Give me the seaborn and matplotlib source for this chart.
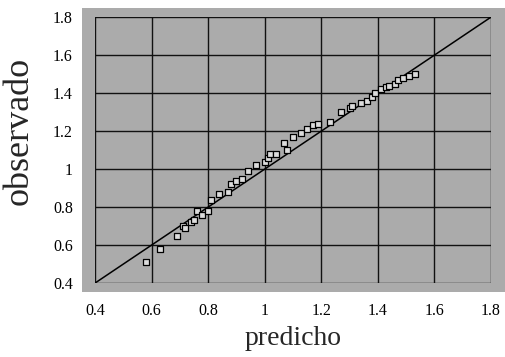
import numpy as np
import pandas as pd
import matplotlib
matplotlib.use("Agg")
import matplotlib.pyplot as plt
from matplotlib import font_manager
from matplotlib.patches import Rectangle
import seaborn as sns

predicho = [0.58, 0.63, 0.69, 0.71, 0.72, 0.74, 0.75, 0.76, 0.78, 0.80,
            0.81, 0.84, 0.87, 0.88, 0.90, 0.92, 0.94, 0.97, 1.00, 1.01,
            1.02, 1.04, 1.07, 1.08, 1.10, 1.13, 1.15, 1.17, 1.19, 1.23,
            1.27, 1.30, 1.31, 1.34, 1.36, 1.38, 1.39, 1.41, 1.43, 1.44,
            1.46, 1.47, 1.49, 1.51, 1.53]
observado = [0.51, 0.58, 0.65, 0.70, 0.69, 0.72, 0.73, 0.78, 0.76, 0.78,
             0.84, 0.87, 0.88, 0.92, 0.94, 0.95, 0.99, 1.02, 1.04, 1.06,
             1.08, 1.08, 1.14, 1.10, 1.17, 1.19, 1.21, 1.23, 1.24, 1.25,
             1.30, 1.32, 1.33, 1.35, 1.36, 1.38, 1.40, 1.42, 1.43, 1.44,
             1.45, 1.47, 1.48, 1.49, 1.50]
ticks = [0.4, 0.6, 0.8, 1.0, 1.2, 1.4, 1.6, 1.8]
tick_labels = ["0.4", "0.6", "0.8", "1", "1.2", "1.4", "1.6", "1.8"]

df = pd.DataFrame({"predicho": predicho, "observado": observado})

sns.set_style("white")

# pick a Times-like serif that is actually installed
installed = {f.name for f in font_manager.fontManager.ttflist}
serif = "DejaVu Serif"
for name in ["Liberation Serif", "Tinos", "Nimbus Roman", "Times New Roman",
             "FreeSerif", "Noto Serif"]:
    if name in installed:
        serif = name
        break
plt.rcParams["font.family"] = [serif, "DejaVu Serif"]

fig = plt.figure(figsize=(5.06, 3.57), dpi=100)
ax = fig.add_axes([0.1877, 0.207, 0.7826, 0.745])

# gray plot area, a bit larger than the data range
ax.set_facecolor("none")
ax.add_patch(Rectangle((-0.033, -0.034), 1.068, 1.068, transform=ax.transAxes,
                       facecolor="#ababab", edgecolor="none", clip_on=False,
                       zorder=0))

for t in ticks:
    ax.axhline(t, color="#111111", lw=1.0, zorder=1)
    ax.axvline(t, color="#111111", lw=1.0, zorder=1)

ax.axline((0.4, 0.4), slope=1, color="black", lw=1.1, zorder=2)

sns.scatterplot(data=df, x="predicho", y="observado", marker="s", s=16,
                facecolor="#dcdcdc", edgecolor="black", linewidth=0.9,
                ax=ax, zorder=3)

ax.set_xlim(0.4, 1.8)
ax.set_ylim(0.4, 1.8)
ax.set_xticks(ticks)
ax.set_xticklabels(tick_labels)
ax.set_yticks(ticks)
ax.set_yticklabels(tick_labels)
ax.tick_params(axis="both", length=0, labelsize=11.5, colors="black")
ax.tick_params(axis="x", pad=14)
ax.tick_params(axis="y", pad=16)

for sp in ax.spines.values():
    sp.set_visible(False)

ax.set_xlabel("predicho", fontsize=20)
ax.set_ylabel("observado", fontsize=26)
ax.xaxis.set_label_coords(0.5, -0.16)
ax.yaxis.set_label_coords(-0.15, 0.571)

fig.savefig("out.png", dpi=100)
